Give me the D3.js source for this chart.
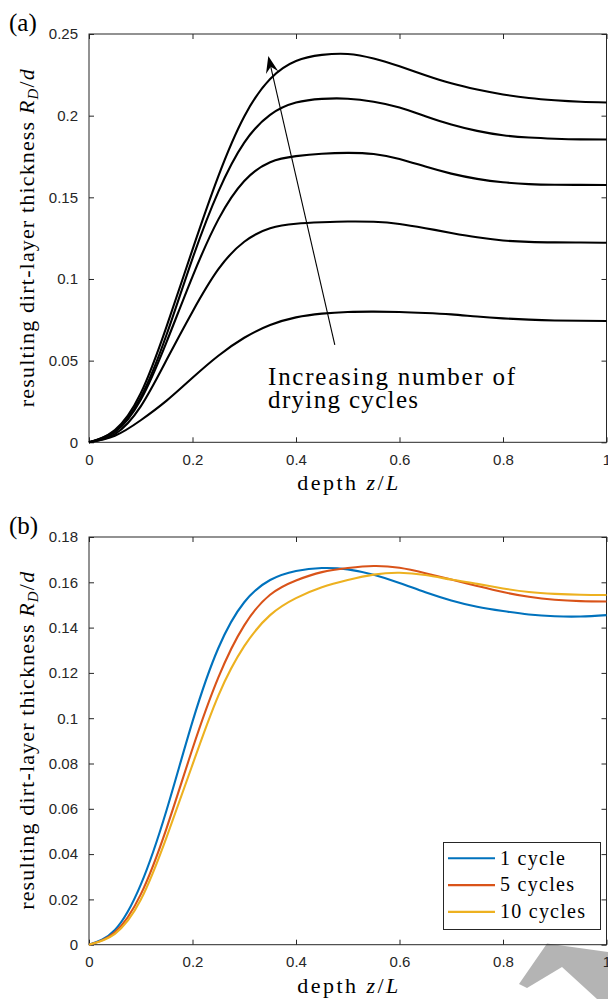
<!DOCTYPE html>
<html><head><meta charset="utf-8">
<script src="https://cdn.jsdelivr.net/npm/d3@7"></script>
<style>body{margin:0;background:#fff}svg{display:block}</style>
</head><body>
<svg id="c" width="608" height="999"></svg>
<script>
// ---------- data ----------
const depth = [0,0.05,0.1,0.15,0.2,0.25,0.3,0.35,0.4,0.45,0.5,0.55,0.6,0.65,0.7,0.75,0.8,0.85,0.9,0.95,1];
// panel (a): five curves, bottom to top (increasing number of drying cycles)
const curveA1 = [0,0.0040,0.0135,0.0255,0.0395,0.0530,0.0640,0.0718,0.0765,0.0788,0.0798,0.0800,0.0798,0.0792,0.0783,0.0770,0.0759,0.0751,0.0746,0.0744,0.0743];
const curveA2 = [0,0.0050,0.0220,0.0505,0.0800,0.1060,0.1228,0.1310,0.1338,0.1347,0.1352,0.1350,0.1337,0.1311,0.1282,0.1255,0.1236,0.1227,0.1224,0.1223,0.1222];
const curveA3 = [0,0.0062,0.0260,0.0615,0.1015,0.1365,0.1600,0.1715,0.1752,0.1767,0.1772,0.1765,0.1735,0.1688,0.1645,0.1613,0.1592,0.1581,0.1577,0.1576,0.1575];
const curveA4 = [0,0.0068,0.0275,0.0660,0.1125,0.1535,0.1835,0.2005,0.2080,0.2103,0.2104,0.2085,0.2050,0.1997,0.1946,0.1907,0.1880,0.1866,0.1859,0.1855,0.1854];
const curveA5 = [0,0.0075,0.0300,0.0710,0.1180,0.1630,0.1995,0.2225,0.2335,0.2372,0.2378,0.2350,0.2302,0.2248,0.2198,0.2160,0.2130,0.2108,0.2094,0.2085,0.2081];
// panel (b)
const seriesNames = ["1 cycle","5 cycles","10 cycles"];
const cycle1  = [0,0.0065,0.0265,0.0595,0.0985,0.1310,0.1512,0.1610,0.1650,0.1663,0.1657,0.1633,0.1597,0.1556,0.1520,0.1492,0.1473,0.1458,0.1450,0.1449,0.1455];
const cycle5  = [0,0.0055,0.0222,0.0515,0.0865,0.1180,0.1410,0.1545,0.1608,0.1645,0.1663,0.1672,0.1664,0.1640,0.1612,0.1584,0.1557,0.1536,0.1523,0.1517,0.1515];
const cycle10 = [0,0.0048,0.0198,0.0475,0.0795,0.1100,0.1318,0.1455,0.1530,0.1578,0.1610,0.1634,0.1642,0.1632,0.1612,0.1593,0.1573,0.1557,0.1549,0.1545,0.1544];
const xTicks = [0,0.2,0.4,0.6,0.8,1];
const xTickLabels = ["0","0.2","0.4","0.6","0.8","1"];
const yTicksA = [0,0.05,0.1,0.15,0.2,0.25];
const yTickLabelsA = ["0","0.05","0.1","0.15","0.2","0.25"];
const yTicksB = [0,0.02,0.04,0.06,0.08,0.1,0.12,0.14,0.16,0.18];
const yTickLabelsB = ["0","0.02","0.04","0.06","0.08","0.1","0.12","0.14","0.16","0.18"];
const arrowFrom = [0.475, 0.0596];
const arrowTo = [0.3465, 0.2365];
const annotLines = ["Increasing number of","drying cycles"];
const annotPos = [[0.346,0.0351],[0.346,0.0210]];

// ---------- layout ----------
const svg = d3.select("#c");
const SERIF = "'Liberation Serif','Times New Roman',serif";
const SANS = "'Liberation Sans',Arial,Helvetica,sans-serif";
const AX = "#262626";
const colors = ["#0072BD","#D95319","#EDB120"];
const L = 89, R = 606.5;
const x = d3.scaleLinear().domain([0,1]).range([L,R]);
const yA = d3.scaleLinear().domain([0,0.25]).range([442.3,34]);
const yB = d3.scaleLinear().domain([0,0.18]).range([944.7,537]);

// watermark shape (decoration)
const wm = [[519,984],[547,943.5],[608,952],[608,999],[597,999],[562,967],[527,988]];
svg.append("polygon").attr("points", wm.map(p=>p.join(",")).join(" ")).attr("fill","#b4b4b4");

function drawAxes(y, yTicks, yLabels, tag, tagY){
  const g = svg.append("g");
  const top = y.range()[1], bot = y.range()[0];
  g.append("rect").attr("x",L).attr("y",top).attr("width",R-L).attr("height",bot-top)
    .attr("fill","none").attr("stroke",AX).attr("stroke-width",1);
  const bx = g.append("g").attr("transform",`translate(0,${bot})`)
    .call(d3.axisBottom(x).tickValues(xTicks).tickFormat((d,i)=>xTickLabels[i]).tickSizeInner(-5).tickSizeOuter(0).tickPadding(12));
  const tx = g.append("g").attr("transform",`translate(0,${top})`)
    .call(d3.axisTop(x).tickValues(xTicks).tickFormat("").tickSizeInner(-5).tickSizeOuter(0));
  const ly = g.append("g").attr("transform",`translate(${L},0)`)
    .call(d3.axisLeft(y).tickValues(yTicks).tickFormat((d,i)=>yLabels[i]).tickSizeInner(-5).tickSizeOuter(0).tickPadding(11));
  const ry = g.append("g").attr("transform",`translate(${R},0)`)
    .call(d3.axisRight(y).tickValues(yTicks).tickFormat("").tickSizeInner(-5).tickSizeOuter(0));
  [bx,tx,ly,ry].forEach(a=>{
    a.select(".domain").remove();
    a.selectAll("line").attr("stroke",AX);
    a.selectAll("text").attr("fill",AX).style("font-family",SANS).style("font-size","15px");
  });
  // x label
  const xl = g.append("text").attr("x",(L+R)/2).attr("y",bot+48).attr("text-anchor","middle")
    .style("font-family",SERIF).style("font-size","22px").attr("fill","#000")
    .attr("textLength",101).attr("lengthAdjust","spacing");
  xl.append("tspan").text("depth ");
  xl.append("tspan").attr("font-style","italic").text("z");
  xl.append("tspan").text("/");
  xl.append("tspan").attr("font-style","italic").text("L");
  // y label
  const yl = g.append("text").attr("transform",`translate(33.5,${(top+bot)/2}) rotate(-90)`)
    .attr("text-anchor","middle").style("font-family",SERIF).style("font-size","22px").attr("fill","#000")
    .attr("textLength",338).attr("lengthAdjust","spacing");
  yl.append("tspan").text("resulting dirt-layer thickness ");
  yl.append("tspan").attr("font-style","italic").text("R");
  yl.append("tspan").attr("font-style","italic").attr("font-size","15px").attr("dy",4).text("D");
  yl.append("tspan").attr("dy",-4).text("/");
  yl.append("tspan").attr("font-style","italic").text("d");
  // panel tag
  svg.append("text").attr("x",9).attr("y",tagY).style("font-family",SERIF).style("font-size","25px")
    .attr("fill","#000").text(tag);
}

drawAxes(yA, yTicksA, yTickLabelsA, "(a)", 31);
drawAxes(yB, yTicksB, yTickLabelsB, "(b)", 534);

// ---------- panel (a) curves ----------
const lineA = d3.line().x((d,i)=>x(depth[i])).y(d=>yA(d)).curve(d3.curveNatural);
[curveA1,curveA2,curveA3,curveA4,curveA5].forEach(c=>{
  svg.append("path").attr("d",lineA(c)).attr("fill","none").attr("stroke","#000").attr("stroke-width",2.1);
});

// arrow
const p0 = [x(arrowFrom[0]), yA(arrowFrom[1])], p1 = [x(arrowTo[0]), yA(arrowTo[1])];
const dx = p1[0]-p0[0], dy = p1[1]-p0[1], len = Math.hypot(dx,dy);
const ux = dx/len, uy = dy/len, nx = -uy, ny = ux;
const hl = 17, hw = 6.3, notch = 11;
const base = [p1[0]-ux*hl, p1[1]-uy*hl];
const nb = [p1[0]-ux*notch, p1[1]-uy*notch];
svg.append("line").attr("x1",p0[0]).attr("y1",p0[1]).attr("x2",nb[0]).attr("y2",nb[1])
  .attr("stroke","#000").attr("stroke-width",1.1);
svg.append("path").attr("d",`M${p1[0]},${p1[1]}L${base[0]+nx*hw},${base[1]+ny*hw}L${nb[0]},${nb[1]}L${base[0]-nx*hw},${base[1]-ny*hw}Z`)
  .attr("fill","#000");
const annotWidths = [247,150];
annotLines.forEach((t,i)=>{
  svg.append("text").attr("x",x(annotPos[i][0])).attr("y",yA(annotPos[i][1]))
    .style("font-family",SERIF).style("font-size","25px").attr("fill","#000")
    .attr("textLength",annotWidths[i]).attr("lengthAdjust","spacing").text(t);
});

// ---------- panel (b) curves ----------
const lineB = d3.line().x((d,i)=>x(depth[i])).y(d=>yB(d)).curve(d3.curveNatural);
[cycle1,cycle5,cycle10].forEach((c,k)=>{
  svg.append("path").attr("d",lineB(c)).attr("fill","none").attr("stroke",colors[k]).attr("stroke-width",2.1);
});

// legend
const lg = svg.append("g");
lg.append("rect").attr("x",443.5).attr("y",842.5).attr("width",157).attr("height",87)
  .attr("fill","#fff").attr("stroke",AX).attr("stroke-width",1);
const legW = [65,74,85];
seriesNames.forEach((n,k)=>{
  const cy = 858.3 + k*26.8;
  lg.append("line").attr("x1",448).attr("x2",495).attr("y1",cy).attr("y2",cy)
    .attr("stroke",colors[k]).attr("stroke-width",2.1);
  lg.append("text").attr("x",500).attr("y",cy+6.2).style("font-family",SERIF).style("font-size","20px")
    .attr("fill","#000").attr("textLength",legW[k]).attr("lengthAdjust","spacing").text(n);
});
</script>
</body></html>
